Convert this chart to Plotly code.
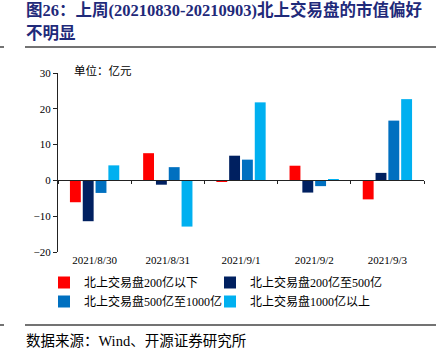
import plotly.graph_objects as go

categories = ["2021/8/30", "2021/8/31", "2021/9/1", "2021/9/2", "2021/9/3"]
series_names = ["北上交易盘200亿以下", "北上交易盘200亿至500亿",
                "北上交易盘500亿至1000亿", "北上交易盘1000亿以上"]
v_below200 = [-6.1, 7.6, -0.4, 4.1, -5.3]
v_200_500 = [-11.4, -1.2, 6.9, -3.4, 2.1]
v_500_1000 = [-3.5, 3.7, 5.8, -1.6, 16.7]
v_above1000 = [4.2, -12.9, 21.8, 0.3, 22.7]
colors = ["#FF0000", "#002060", "#0070C0", "#00B0F0"]
legend_ids = ["legend", "legend2", "legend", "legend2"]
y_ticks = [-20, -10, 0, 10, 20, 30]

W, H = 444, 358
ML, MR, MT, MB = 58, 20, 73, 106
PW = W - ML - MR
PH = H - MT - MB


def px_x(p):
    return (p - ML) / PW


def px_y(p):
    return (H - MB - p) / PH


serif = "Times New Roman, Liberation Serif, Noto Sans CJK SC, serif"

fig = go.Figure()
for name, vals, c, lg in zip(series_names, [v_below200, v_200_500, v_500_1000, v_above1000],
                             colors, legend_ids):
    fig.add_trace(go.Bar(x=categories, y=vals, name=name, legend=lg,
                         marker=dict(color=c, line=dict(width=0))))

# helper trace for the zero-position category axis
fig.add_trace(go.Scatter(x=categories, y=[0] * len(categories), xaxis="x2", mode="markers",
                         marker=dict(opacity=0), showlegend=False, hoverinfo="skip"))

legend_common = dict(orientation="v", xref="container", yref="container",
                     y=(H - 268) / H, xanchor="left", yanchor="top",
                     font=dict(family=serif, size=12, color="black"),
                     itemwidth=30, bgcolor="rgba(0,0,0,0)", tracegroupgap=0)

fig.update_layout(
    width=W, height=H,
    margin=dict(l=ML, r=MR, t=MT, b=MB, autoexpand=False),
    paper_bgcolor="white", plot_bgcolor="white",
    barmode="group", bargap=0.3, bargroupgap=0.15,
    font=dict(family=serif, size=11, color="black"),
    showlegend=True,
    legend=dict(x=44 / W, **legend_common),
    legend2=dict(x=210 / W, **legend_common),
    xaxis=dict(type="category", categoryarray=categories, range=[-0.5, 4.5],
               showline=False, ticks="", showgrid=False, zeroline=False, automargin=False,
               tickfont=dict(family=serif, size=11, color="black")),
    xaxis2=dict(type="category", categoryarray=categories, range=[-0.5, 4.5],
                overlaying="x", anchor="free", position=(0 - (-20)) / 50,
                showline=True, linecolor="#222222", linewidth=1, automargin=False,
                ticks="outside", tickson="boundaries", ticklen=3, tickcolor="#222222",
                showticklabels=False, showgrid=False, zeroline=False),
    yaxis=dict(range=[-20, 30], tickvals=y_ticks, showline=True, linecolor="#222222", linewidth=1,
               ticks="outside", ticklen=4, tickcolor="#222222", showgrid=False, zeroline=False,
               automargin=False, tickfont=dict(family=serif, size=11, color="black")),
)

# title (two lines)
title_font = dict(family=serif, size=16.5, color="#1F2A7A")
fig.add_annotation(xref="paper", yref="paper", x=px_x(24), y=px_y(10), xanchor="left", yanchor="middle",
                   showarrow=False, text="<b>图26：上周(20210830-20210903)北上交易盘的市值偏好</b>",
                   font=title_font)
fig.add_annotation(xref="paper", yref="paper", x=px_x(24), y=px_y(33), xanchor="left", yanchor="middle",
                   showarrow=False, text="<b>不明显</b>", font=title_font)
# unit
fig.add_annotation(xref="paper", yref="paper", x=px_x(72), y=px_y(71), xanchor="left", yanchor="middle",
                   showarrow=False, text="单位：亿元", font=dict(family=serif, size=11.5, color="black"))
# source
fig.add_annotation(xref="paper", yref="paper", x=px_x(24), y=px_y(341), xanchor="left", yanchor="middle",
                   showarrow=False, text="数据来源：Wind、开源证券研究所",
                   font=dict(family=serif, size=14.5, color="black"))

# separator lines
for yy in (47, 325):
    fig.add_shape(type="line", xref="paper", yref="paper", x0=px_x(25), x1=px_x(436),
                  y0=px_y(yy), y1=px_y(yy), line=dict(color="#444444", width=1.5))
    fig.add_shape(type="line", xref="paper", yref="paper", x0=px_x(0), x1=px_x(4),
                  y0=px_y(yy), y1=px_y(yy), line=dict(color="#444444", width=1.5))

fig.write_html("out.html", config={"displayModeBar": False},
               post_script="document.body.style.margin='0';")
